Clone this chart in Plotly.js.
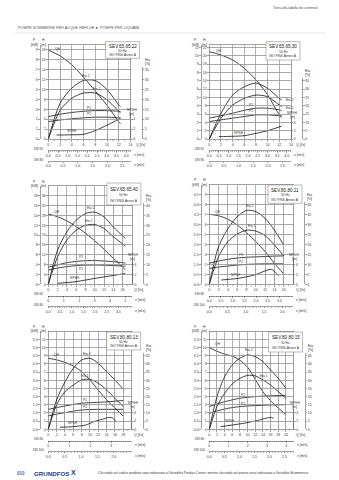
<!DOCTYPE html>
<html>
<head>
<meta charset="utf-8">
<script src="https://cdn.plot.ly/plotly-3.0.1.min.js"></script>
<style>
html,body{margin:0;padding:0;background:#fff;overflow:hidden;}
#chart{width:339px;height:480px;}
</style>
</head>
<body>
<div id="chart"></div>
<script>
// ================= DATA =================
// Chart 1 : SEV.65.65.22
const c1_q    = [0, 2, 4, 6, 8, 10, 12, 12.3];
const c1_h    = [18, 16.8, 15, 12.5, 9.7, 6.8, 3.5, 3.1];
const c1_eta1 = [0, 14.5, 20.6, 23.2, 23.2, 19.8, 14, 13.2];
const c1_eta2 = [0, 18, 25.7, 29.6, 29.5, 25, 17.2, 16.3];
const c1_p1   = [2.26, 2.5, 2.68, 2.8, 2.87, 2.86, 2.8, 2.78];
const c1_p2   = [1.76, 1.92, 2.04, 2.14, 2.2, 2.2, 2.14, 2.12];
const c1_nq   = [1.4, 4, 6, 8, 10, 12, 12.3];
const c1_npsh = [0.8, 0.85, 0.95, 1.7, 2.8, 4.0, 4.2];
const c1_qTicks = [0, 2, 4, 6, 8, 10, 12, 14];
const c1_hTicks = [0, 2, 4, 6, 8, 10, 12, 14, 16, 18];
const c1_pTicks = [0, 1, 2, 3, 4, 5, 6, 7, 8, 9];
const c1_etaTicks = [0, 5, 10, 15, 20, 25, 30, 35];
const c1_npshTicks = [0, 2, 4];
const c1_v1Ticks = [0, 0.5, 1, 1.5, 2, 2.5, 3, 3.5, 4];
const c1_v2Ticks = [0, 0.5, 1, 1.5, 2, 2.5];

// Chart 2 : SEV.65.65.30
const c2_q    = [0, 2, 4, 6, 8, 10, 12, 12.4];
const c2_h    = [21, 20.2, 19, 17, 14.2, 10.6, 5.8, 5.2];
const c2_eta1 = [0, 12.4, 20.4, 24.4, 26.4, 25.4, 20.4, 19.5];
const c2_eta2 = [0, 15.4, 26.4, 31.4, 33.6, 30.4, 24.4, 23.4];
const c2_p1   = [2.5, 2.8, 3.1, 3.45, 3.7, 3.7, 3.5, 3.4];
const c2_p2   = [2.1, 2.3, 2.5, 2.7, 2.9, 2.9, 2.8, 2.76];
const c2_nq   = [1.6, 4, 6, 8, 10, 12.4];
const c2_npsh = [0.56, 0.65, 0.8, 1.36, 2.0, 3.1];
const c2_qTicks = [0, 2, 4, 6, 8, 10, 12, 14];
const c2_hTicks = [0, 2, 4, 6, 8, 10, 12, 14, 16, 18, 20, 22];
const c2_pTicks = [0, 1, 2, 3, 4, 5, 6, 7, 8, 9, 10, 11];
const c2_etaTicks = [0, 5, 10, 15, 20, 25, 30, 35];
const c2_npshTicks = [0, 2, 4];
const c2_v1Ticks = [0, 0.5, 1, 1.5, 2, 2.5, 3, 3.5, 4];
const c2_v2Ticks = [0, 0.5, 1, 1.5, 2, 2.5];

// Chart 3 : SEV.65.65.40
const c3_q    = [0, 2, 4, 6, 8, 10, 12, 14, 16, 16.6];
const c3_h    = [28.6, 27.5, 25.8, 23.5, 20.8, 17.7, 14.3, 10.6, 7, 5.9];
const c3_eta1 = [0, 14, 22.5, 27.5, 30, 30.4, 28.4, 24.2, 20.5, 19.4];
const c3_eta2 = [0, 17.4, 26.7, 32.6, 36, 36.7, 34.3, 29.2, 24.6, 23.3];
const c3_p1   = [3.5, 3.95, 4.4, 4.65, 4.8, 4.82, 4.75, 4.6, 4.4, 4.3];
const c3_p2   = [2.9, 3.3, 3.6, 3.8, 3.9, 3.92, 3.88, 3.8, 3.72, 3.7];
const c3_nq   = [2, 6, 10, 14, 16.6];
const c3_npsh = [0.2, 0.55, 1.2, 1.8, 2.2];
const c3_qTicks = [0, 2, 4, 6, 8, 10, 12, 14, 16];
const c3_hTicks = [0, 4, 8, 12, 16, 20, 24, 28, 32, 36];
const c3_pTicks = [0, 2, 4, 6, 8, 10, 12, 14, 16, 18];
const c3_etaTicks = [0, 5, 10, 15, 20, 25, 30, 35, 40];
const c3_npshTicks = [0, 2, 4];
const c3_v1Ticks = [0, 1, 2, 3, 4, 5];
const c3_v2Ticks = [0, 0.5, 1, 1.5, 2, 2.5, 3];

// Chart 4 : SEV.80.80.11
const c4_q    = [0, 2, 4, 6, 8, 10, 12, 14, 16];
const c4_h    = [7.05, 6.9, 6.55, 5.97, 5.2, 4.3, 3.3, 2.1, 1.05];
const c4_eta1 = [0, 14, 21.5, 25.3, 27.2, 26.8, 24.5, 19.8, 14.3];
const c4_eta2 = [0, 19, 28, 34, 37.2, 36.6, 33.2, 27.3, 19.8];
const c4_p1   = [1.06, 1.17, 1.26, 1.32, 1.36, 1.38, 1.4, 1.42, 1.43];
const c4_p2   = [0.8, 0.87, 0.92, 0.97, 1.0, 1.02, 1.03, 1.03, 1.03];
const c4_nq   = [2.6, 6.2, 9.8, 12.6, 13.4, 14.4, 14.9];
const c4_npsh = [0.87, 1.2, 1.9, 2.9, 3.0, 2.2, 1.7];
const c4_qTicks = [0, 2, 4, 6, 8, 10, 12, 14, 16];
const c4_hTicks = [0, 1, 2, 3, 4, 5, 6, 7, 8, 9];
const c4_pTicks = [0, 0.5, 1, 1.5, 2, 2.5, 3, 3.5, 4, 4.5];
const c4_etaTicks = [0, 5, 10, 15, 20, 25, 30, 35, 40];
const c4_npshTicks = [0, 2, 4];
const c4_v1Ticks = [0, 0.5, 1, 1.5, 2, 2.5, 3];
const c4_v2Ticks = [0, 0.5, 1, 1.5, 2];

// Chart 5 : SEV.80.80.13
const c5_q    = [0, 2, 4, 6, 8, 10, 12, 14, 16, 18];
const c5_h    = [8.7, 8.5, 8.2, 7.75, 7.06, 6.04, 4.8, 3.6, 2.6, 1.6];
const c5_eta1 = [0, 15, 23, 27.1, 30.2, 30.6, 28.2, 24.1, 19, 13.9];
const c5_eta2 = [0, 18, 29, 37.3, 42.4, 43.5, 40.4, 35.3, 30.2, 24.5];
const c5_p1   = [1.22, 1.33, 1.43, 1.52, 1.6, 1.63, 1.65, 1.68, 1.72, 1.76];
const c5_p2   = [0.82, 0.93, 1.02, 1.11, 1.18, 1.21, 1.22, 1.22, 1.22, 1.22];
const c5_nq   = [2.8, 6, 9, 11, 13, 14.5, 15.3, 16.3];
const c5_npsh = [0.5, 0.65, 1.06, 1.9, 2.45, 2.9, 2.85, 1.9];
const c5_qTicks = [0, 2, 4, 6, 8, 10, 12, 14, 16, 18];
const c5_hTicks = [0, 1, 2, 3, 4, 5, 6, 7, 8, 9, 10, 11];
const c5_pTicks = [0, 0.5, 1, 1.5, 2, 2.5, 3, 3.5, 4, 4.5, 5, 5.5];
const c5_etaTicks = [0, 5, 10, 15, 20, 25, 30, 35, 40, 45];
const c5_npshTicks = [0, 2, 4];
const c5_v1Ticks = [0, 1, 2, 3];
const c5_v2Ticks = [0, 0.5, 1, 1.5, 2];

// Chart 6 : SEV.80.80.15
const c6_q    = [0, 2, 4, 6, 8, 10, 12, 14, 16, 18, 20];
const c6_h    = [10.0, 9.55, 9.2, 8.95, 8.45, 7.6, 6.1, 4.6, 3.5, 2.6, 1.8];
const c6_eta1 = [0, 13.9, 22, 27.8, 31.2, 33, 32.7, 30.2, 27.1, 23.1, 19];
const c6_eta2 = [0, 20, 32.2, 39.4, 43.5, 45.5, 44.5, 41.4, 36.3, 31.2, 25.1];
const c6_p1   = [1.39, 1.55, 1.69, 1.8, 1.9, 1.96, 2.0, 2.03, 2.05, 2.07, 2.08];
const c6_p2   = [0.98, 1.12, 1.24, 1.33, 1.39, 1.43, 1.45, 1.47, 1.49, 1.5, 1.51];
const c6_nq   = [3, 6, 9, 12, 14, 15.5, 16.2, 16.8];
const c6_npsh = [0.65, 1.06, 1.47, 2.04, 2.5, 2.86, 2.86, 2.7];
const c6_qTicks = [0, 2, 4, 6, 8, 10, 12, 14, 16, 18, 20];
const c6_hTicks = [0, 1, 2, 3, 4, 5, 6, 7, 8, 9, 10, 11];
const c6_pTicks = [0, 0.5, 1, 1.5, 2, 2.5, 3, 3.5, 4, 4.5, 5, 5.5];
const c6_etaTicks = [0, 5, 10, 15, 20, 25, 30, 35, 40, 45];
const c6_npshTicks = [0, 2, 4];
const c6_v1Ticks = [0, 1, 2, 3, 4];
const c6_v2Ticks = [0, 0.5, 1, 1.5, 2, 2.5];

// ================= CHART SETUP =================
const FONT = 'Liberation Sans, Arial, sans-serif';
const W = 339, HH = 480;
const TXT = '#333';
const px = v => v / W;
const py = v => 1 - v / HH;

const charts = [
  {name:'SEV.65.65.22', L:48.3, R:130.5, T:45, B:139, hMax:19, qMax:14, etaK:2.5, npshK:1, pFmt:'d',
   q:c1_q, h:c1_h, eta1:c1_eta1, eta2:c1_eta2, p1:c1_p1, p2:c1_p2, nq:c1_nq, npsh:c1_npsh,
   qT:c1_qTicks, hT:c1_hTicks, pT:c1_pTicks, eT:c1_etaTicks, nT:c1_npshTicks, v1T:c1_v1Ticks, v2T:c1_v2Ticks,
   dn1:'DN 65', d1:65, dn2:'DN 80', d2:80, v1Fmt:'.1f', v2Fmt:'.1f', qLabShift:3, box:[41.7,58.3],
   labels:[['QH','h',0,5,1,'left'],['Eta 2','eta2',3,2,4.5,'center'],['Eta 1','eta1',4,2,4,'center'],
           ['P1','p1',3,5,3.5,'center'],['P2','p2',3,5,3.5,'center'],['NPSH','npsh',1,0,3.5,'center']]},
  {name:'SEV.65.65.30', L:209.3, R:291, T:45, B:139, hMax:22.6, qMax:14, etaK:2.5, npshK:1, pFmt:'d',
   q:c2_q, h:c2_h, eta1:c2_eta1, eta2:c2_eta2, p1:c2_p1, p2:c2_p2, nq:c2_nq, npsh:c2_npsh,
   qT:c2_qTicks, hT:c2_hTicks, pT:c2_pTicks, eT:c2_etaTicks, nT:c2_npshTicks, v1T:c2_v1Ticks, v2T:c2_v2Ticks,
   dn1:'DN 65', d1:65, dn2:'DN 80', d2:80, v1Fmt:'.1f', v2Fmt:'.1f', qLabShift:3, box:[41.7,60],
   labels:[['QH','h',0,5,1,'left'],['Eta 2','eta2',7,2,0.5,'left'],['Eta 1','eta1',7,2,-1.5,'left'],
           ['P1','p1',4,-5,3.5,'center'],['P2','p2',4,-5,3.5,'center'],['NPSH','npsh',1,6,3.5,'center']]},
  {name:'SEV.65.65.40', L:48.3, R:131.9, T:186, B:284.3, hMax:40, qMax:18, etaK:1.25, npshK:0.5, pFmt:'d',
   q:c3_q, h:c3_h, eta1:c3_eta1, eta2:c3_eta2, p1:c3_p1, p2:c3_p2, nq:c3_nq, npsh:c3_npsh,
   qT:c3_qTicks, hT:c3_hTicks, pT:c3_pTicks, eT:c3_etaTicks, nT:c3_npshTicks, v1T:c3_v1Ticks, v2T:c3_v2Ticks,
   dn1:'DN 65', d1:65, dn2:'DN 80', d2:80, v1Fmt:'d', v2Fmt:'.1f', qLabShift:0.5, box:[183,205],
   labels:[['QH','h',0,4,2,'left'],['Eta 2','eta2',5,-4,4.5,'center'],['Eta 1','eta1',4,4,4,'center'],
           ['P1','p1',4,-4,3.5,'center'],['P2','p2',4,-4,-3.5,'center'],['NPSH','npsh',1,-1,3.5,'center']]},
  {name:'SEV.80.80.11', L:209.3, R:293, T:185, B:284.3, hMax:10, qMax:18, etaK:5, npshK:2, pFmt:'.1f',
   q:c4_q, h:c4_h, eta1:c4_eta1, eta2:c4_eta2, p1:c4_p1, p2:c4_p2, nq:c4_nq, npsh:c4_npsh,
   qT:c4_qTicks, hT:c4_hTicks, pT:c4_pTicks, eT:c4_etaTicks, nT:c4_npshTicks, v1T:c4_v1Ticks, v2T:c4_v2Ticks,
   dn1:'DN 80', d1:80, dn2:'DN 100', d2:100, v1Fmt:'.1f', v2Fmt:'.1f', qLabShift:0.5, box:[185,203.3],
   labels:[['QH','h',0,4,2,'left'],['Eta 2','eta2',4,3,4.5,'center'],['Eta 1','eta1',4,5,4,'center'],
           ['P1','p1',3,4,3,'center'],['P2','p2',3,4,3,'center'],['NPSH','npsh',1,-2,3,'center']]},
  {name:'SEV.80.80.13', L:48.3, R:131.6, T:331.3, B:429.3, hMax:12, qMax:20, etaK:5, npshK:2, pFmt:'.1f',
   q:c5_q, h:c5_h, eta1:c5_eta1, eta2:c5_eta2, p1:c5_p1, p2:c5_p2, nq:c5_nq, npsh:c5_npsh,
   qT:c5_qTicks, hT:c5_hTicks, pT:c5_pTicks, eT:c5_etaTicks, nT:c5_npshTicks, v1T:c5_v1Ticks, v2T:c5_v2Ticks,
   dn1:'DN 80', d1:80, dn2:'DN 100', d2:100, v1Fmt:'d', v2Fmt:'.1f', qLabShift:0.5, box:[332,350],
   labels:[['QH','h',0,4,3,'left'],['Eta 2','eta2',5,-3,4.5,'center'],['Eta 1','eta1',4,3,4,'center'],
           ['P1','p1',4,3,3,'center'],['P2','p2',4,3,3,'center'],['NPSH','npsh',1,0,3.5,'center']]},
  {name:'SEV.80.80.15', L:209.3, R:293.6, T:331.3, B:429.3, hMax:12, qMax:22, etaK:5, npshK:2, pFmt:'.1f',
   q:c6_q, h:c6_h, eta1:c6_eta1, eta2:c6_eta2, p1:c6_p1, p2:c6_p2, nq:c6_nq, npsh:c6_npsh,
   qT:c6_qTicks, hT:c6_hTicks, pT:c6_pTicks, eT:c6_etaTicks, nT:c6_npshTicks, v1T:c6_v1Ticks, v2T:c6_v2Ticks,
   dn1:'DN 80', d1:80, dn2:'DN 100', d2:100, v1Fmt:'d', v2Fmt:'.1f', qLabShift:0.5, box:[332,352],
   labels:[['QH','h',0,4,4,'left'],['Eta 2','eta2',5,1,4.5,'center'],['Eta 1','eta1',7,1,4,'center'],
           ['P1','p1',4,3,3,'center'],['P2','p2',4,3,3,'center'],['NPSH','npsh',1,-2,4,'center']]}
];

const layout = {
  width: W, height: HH,
  margin: {l:0, r:0, t:0, b:0},
  paper_bgcolor: '#ffffff',
  plot_bgcolor: 'rgba(0,0,0,0)',
  showlegend: false,
  font: {family: FONT, size: 3.5, color: TXT},
  annotations: [], shapes: []
};
const traces = [];
const aid = (p, n) => n === 1 ? p : p + n;

const LINE = '#444';
const GRID = '#9c9c9c';
const tickBase = {ticks:'outside', ticklen:1.5, tickwidth:0.5, tickcolor:LINE, showline:true,
                  linecolor:LINE, linewidth:0.5, zeroline:false, fixedrange:true,
                  tickfont:{family:FONT, size:3.5, color:TXT}};

function ann(o) {
  layout.annotations.push(Object.assign({showarrow:false, font:{family:FONT, size:3.5, color:TXT}}, o));
}

charts.forEach((c, i) => {
  const XQ = 3*i+1, XV1 = 3*i+2, XV2 = 3*i+3;
  const YH = 4*i+1, YP = 4*i+2, YE = 4*i+3, YN = 4*i+4;
  const pxPerH = (c.B - c.T) / c.hMax;
  const xDom = [px(c.L), px(c.R)];
  const yDom = [py(c.B), py(c.T)];
  const etaTop = c.eT[c.eT.length-1] + 1.5;
  const nTop = 5;
  const etaTopPx = c.B - etaTop / c.etaK * pxPerH;
  const nTopPx = c.B - nTop / c.npshK * pxPerH;

  layout[aid('xaxis', XQ)] = Object.assign({}, tickBase, {
    domain: xDom, range: [0, c.qMax], anchor: aid('y', YH), tickvals: c.qT, tickangle: 0,
    showgrid: true, gridcolor: GRID, gridwidth: 0.5, mirror: true, ticklen: 2,
    minor: {tickvals: c.qT.map(v => v + (c.qT[1]-c.qT[0])/2), ticks:'outside', ticklen:1, tickwidth:0.4, tickcolor:LINE, showgrid:false}
  });
  layout[aid('yaxis', YH)] = Object.assign({}, tickBase, {
    domain: yDom, range: [0, c.hMax], anchor: aid('x', XQ), tickvals: c.hT,
    showgrid: true, gridcolor: GRID, gridwidth: 0.5, mirror: true
  });
  layout[aid('yaxis', YP)] = Object.assign({}, tickBase, {
    domain: yDom, range: [0, c.hMax/2], anchor: 'free', position: px(c.L - 8.5), side: 'left',
    tickvals: c.pT, tickformat: c.pFmt, showgrid: false
  });
  layout[aid('yaxis', YE)] = Object.assign({}, tickBase, {
    domain: [py(c.B), py(etaTopPx)], range: [0, etaTop], anchor: 'free', position: px(c.R + 11.5),
    side: 'right', tickvals: c.eT, showgrid: false
  });
  layout[aid('yaxis', YN)] = Object.assign({}, tickBase, {
    domain: [py(c.B), py(nTopPx)], range: [0, nTop], anchor: 'free', position: px(c.R),
    side: 'right', tickvals: c.nT, showgrid: false
  });
  const area1 = Math.PI * c.d1 * c.d1 / 4 / 1e6;
  const area2 = Math.PI * c.d2 * c.d2 / 4 / 1e6;
  const v1y = c.B + 11.5, v2y = c.B + 22;
  layout[aid('xaxis', XV1)] = Object.assign({}, tickBase, {
    domain: xDom, range: [0, c.qMax/1000/area1], anchor: 'free', position: py(v1y), side: 'bottom',
    tickvals: c.v1T, tickformat: c.v1Fmt, tickangle: 0, showgrid: false,
    minor: {dtick: 0.1, ticks:'outside', ticklen:0.8, tickwidth:0.4, tickcolor:LINE, showgrid:false}
  });
  layout[aid('xaxis', XV2)] = Object.assign({}, tickBase, {
    domain: xDom, range: [0, c.qMax/1000/area2], anchor: 'free', position: py(v2y), side: 'bottom',
    tickvals: c.v2T, tickformat: c.v2Fmt, tickangle: 0, showgrid: false,
    minor: {dtick: 0.1, ticks:'outside', ticklen:0.8, tickwidth:0.4, tickcolor:LINE, showgrid:false}
  });

  const xa = aid('x', XQ);
  const line = {color:'#111', width:0.8, shape:'spline', smoothing:0.8};
  traces.push({x:c.q, y:c.h, xaxis:xa, yaxis:aid('y',YH), mode:'lines', line, hoverinfo:'skip'});
  traces.push({x:c.q, y:c.eta2, xaxis:xa, yaxis:aid('y',YE), mode:'lines', line, hoverinfo:'skip'});
  traces.push({x:c.q, y:c.eta1, xaxis:xa, yaxis:aid('y',YE), mode:'lines', line, hoverinfo:'skip'});
  traces.push({x:c.q, y:c.p1, xaxis:xa, yaxis:aid('y',YP), mode:'lines', line, hoverinfo:'skip'});
  traces.push({x:c.q, y:c.p2, xaxis:xa, yaxis:aid('y',YP), mode:'lines', line, hoverinfo:'skip'});
  traces.push({x:c.nq, y:c.npsh, xaxis:xa, yaxis:aid('y',YN), mode:'lines', line, hoverinfo:'skip'});
  // empty carriers so the velocity scales get a subplot and are drawn
  traces.push({x:[], y:[], xaxis:aid('x',XV1), yaxis:aid('y',YH), mode:'lines', hoverinfo:'skip'});
  traces.push({x:[], y:[], xaxis:aid('x',XV2), yaxis:aid('y',YH), mode:'lines', hoverinfo:'skip'});

  // curve labels
  const axFor = {h:YH, eta1:YE, eta2:YE, p1:YP, p2:YP, npsh:YN};
  c.labels.forEach(([t, key, idx, dx, dy, xan]) => {
    const xs = key === 'npsh' ? c.nq : c.q;
    ann({xref: xa, yref: aid('y', axFor[key]), x: xs[idx], y: c[key][idx], text: t,
         xshift: dx, yshift: dy, xanchor: xan, yanchor: 'middle', font:{family:FONT, size:3.3, color:TXT}});
  });

  // axis titles
  ann({xref:'paper', yref:'paper', x:px(c.L-14), y:py(c.T-4.5), text:'P', xanchor:'center', yanchor:'middle'});
  ann({xref:'paper', yref:'paper', x:px(c.L-14), y:py(c.T), text:'[kW]', xanchor:'center', yanchor:'middle'});
  ann({xref:'paper', yref:'paper', x:px(c.L-5), y:py(c.T-4.5), text:'H', xanchor:'center', yanchor:'middle'});
  ann({xref:'paper', yref:'paper', x:px(c.L-5), y:py(c.T), text:'[m]', xanchor:'center', yanchor:'middle'});
  const eTopTickPx = c.B - c.eT[c.eT.length-1] / c.etaK * pxPerH;
  ann({xref:'paper', yref:'paper', x:px(c.R+16.5), y:py(eTopTickPx-10), text:'Eta', xanchor:'center', yanchor:'middle'});
  ann({xref:'paper', yref:'paper', x:px(c.R+16.5), y:py(eTopTickPx-6), text:'[%]', xanchor:'center', yanchor:'middle'});
  const nTopTickPx = c.B - c.nT[c.nT.length-1] / c.npshK * pxPerH;
  ann({xref:'paper', yref:'paper', x:px(c.R+1), y:py(nTopTickPx-9.5), text:'NPSH', xanchor:'center', yanchor:'middle'});
  ann({xref:'paper', yref:'paper', x:px(c.R+1), y:py(nTopTickPx-5.5), text:'[m]', xanchor:'center', yanchor:'middle'});
  ann({xref:'paper', yref:'paper', x:px(c.R+c.qLabShift), y:py(c.B+6), text:'Q [l/s]', xanchor:'left', yanchor:'middle'});
  ann({xref:'paper', yref:'paper', x:px(c.R+1), y:py(v1y+4.5), text:'v [m/s]', xanchor:'left', yanchor:'middle'});
  ann({xref:'paper', yref:'paper', x:px(c.R+1), y:py(v2y+4.5), text:'v [m/s]', xanchor:'left', yanchor:'middle'});
  ann({xref:'paper', yref:'paper', x:px(c.L-10), y:py(v1y-1.5), text:c.dn1, xanchor:'center', yanchor:'middle', font:{family:FONT,size:3.2,color:TXT}});
  ann({xref:'paper', yref:'paper', x:px(c.L-10), y:py(v2y-1.5), text:c.dn2, xanchor:'center', yanchor:'middle', font:{family:FONT,size:3.2,color:TXT}});

  // title box
  const b0 = c.box[0], b1 = c.box[1], bh = b1 - b0;
  layout.shapes.push({type:'rect', xref:'paper', yref:'paper', x0:px(c.R-25), x1:px(c.R+9),
    y0:py(b1), y1:py(b0), line:{color:'#777', width:0.5}, fillcolor:'#ffffff', layer:'above'});
  ann({xref:'paper', yref:'paper', x:px(c.R-8), y:py(b0+bh*0.28), text:c.name, xanchor:'center', yanchor:'middle', font:{family:FONT,size:4.6,color:'#222'}});
  ann({xref:'paper', yref:'paper', x:px(c.R-8), y:py(b0+bh*0.56), text:'50 Hz', xanchor:'center', yanchor:'middle', font:{family:FONT,size:3.3,color:TXT}});
  ann({xref:'paper', yref:'paper', x:px(c.R-8), y:py(b0+bh*0.8), text:'ISO 9906 Annex A', xanchor:'center', yanchor:'middle', font:{family:FONT,size:3.3,color:TXT}});
});

// page header / footer
ann({xref:'paper', yref:'paper', x:px(320), y:py(7.5), text:'Torna alla tabella dei contenuti', xanchor:'right', yanchor:'middle', font:{family:FONT,size:3.3,color:'#444'}});
ann({xref:'paper', yref:'paper', x:px(15.5), y:py(28.5), text:'POMPE SOMMERSE PER ACQUE REFLUE ► POMPE PER LIQUAMI', xanchor:'left', yanchor:'middle', font:{family:FONT,size:3.8,color:'#555'}});
layout.shapes.push({type:'line', xref:'paper', yref:'paper', x0:px(15), x1:px(326), y0:py(33), y1:py(33), line:{color:'#cfcfcf', width:0.5}});
ann({xref:'paper', yref:'paper', x:px(14.5), y:py(473), text:'<b>910</b>', xanchor:'left', yanchor:'middle', font:{family:FONT,size:4.5,color:'#3b6fb0'}});
ann({xref:'paper', yref:'paper', x:px(31.5), y:py(473), text:'<b>GRUNDFOS</b>', xanchor:'left', yanchor:'middle', font:{family:FONT,size:6.2,color:'#1b3c8c'}});
ann({xref:'paper', yref:'paper', x:px(73), y:py(472.5), text:'<b>X</b>', xanchor:'center', yanchor:'middle', font:{family:FONT,size:7,color:'#1b3c8c'}});
ann({xref:'paper', yref:'paper', x:px(95.5), y:py(472.5), text:'Cliccando sul codice prodotto sarai indirizzato al Grundfos Product Center, mentre cliccando sul prezzo sarai indirizzato a Grundfos Ecommerce.', xanchor:'left', yanchor:'middle', font:{family:FONT,size:3.3,color:'#333'}});

Plotly.newPlot('chart', traces, layout, {displayModeBar:false, staticPlot:true, responsive:false});
</script>
</body>
</html>
